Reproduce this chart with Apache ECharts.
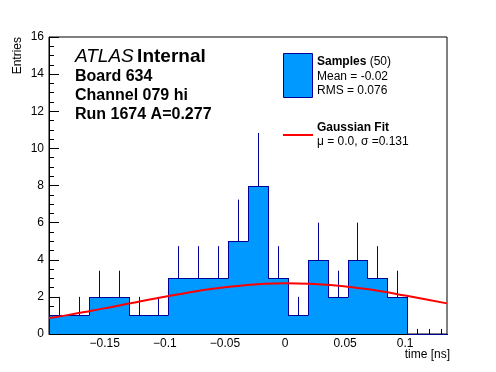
<!DOCTYPE html>
<html>
<head>
<meta charset="utf-8">
<script src="https://cdn.jsdelivr.net/npm/echarts@6/dist/echarts.min.js"></script>
<style>
html,body{margin:0;padding:0;background:#fff;}
#chart{width:496px;height:372px;}
</style>
</head>
<body>
<div id="chart"></div>
<script>
// ---- data ----
const xMin = -0.1964, xMax = 0.1348;
const binEdges = [-0.1964,-0.17984,-0.16328,-0.14672,-0.13016,-0.1136,-0.09704,-0.08048,-0.06392,-0.04736,
                  -0.0308,-0.01424,0.00232,0.01888,0.03544,0.052,0.06856,0.08512,0.10168,0.11824,0.1348];
const binCounts = [1,1,2,2,1,1,3,3,3,5,8,3,1,4,2,4,3,2,0,0];
const binErrors = [1,1,1.41,1.41,1,1,1.73,1.73,1.73,2.24,2.83,1.73,1,2,1.41,2,1.73,1.41,0,0];
const fitX = [-0.1964,-0.18,-0.16,-0.14,-0.12,-0.10,-0.08,-0.06,-0.04,-0.02,0,0.02,0.04,0.06,0.08,0.10,0.12,0.1348];
const fitY = [0.86,1.03,1.27,1.51,1.77,2.01,2.24,2.44,2.59,2.69,2.73,2.71,2.62,2.48,2.30,2.07,1.83,1.65];
const xMajorTicks = [-0.15,-0.1,-0.05,0,0.05,0.1];
const xMinorTicks = [-0.19,-0.18,-0.17,-0.16,-0.14,-0.13,-0.12,-0.11,-0.09,-0.08,-0.07,-0.06,-0.04,-0.03,-0.02,-0.01,
                     0.01,0.02,0.03,0.04,0.06,0.07,0.08,0.09,0.11,0.12,0.13];
const xTickLabels = ['\u22120.15','\u22120.1','\u22120.05','0','0.05','0.1'];

const FONT = '"Liberation Sans", Arial, sans-serif';
const FILL = '#0099ff', LINE = '#000099';

const histData = binCounts.map((c, i) => [binEdges[i], binEdges[i+1], c, i]);
const errData = binCounts.map((c, i) => [(binEdges[i] + binEdges[i+1]) / 2, c, binErrors[i]]).filter(d => d[2] > 0);
const fitData = fitX.map((x, i) => [x, fitY[i]]);

const chart = echarts.init(document.getElementById('chart'), null, {renderer: 'canvas'});
const crisp = v => Math.round(v) + 0.5;

chart.setOption({
  animation: false,
  backgroundColor: '#fff',
  grid: {left: 49, right: 49, top: 37, bottom: 38, show: true, borderColor: '#000', borderWidth: 1, backgroundColor: 'transparent'},
  xAxis: [{
    type: 'value', min: xMin, max: xMax, position: 'bottom',
    axisLine: {show: true, onZero: false, lineStyle: {color: '#000', width: 1}},
    axisTick: {show: true, inside: true, length: 10, customValues: xMajorTicks, lineStyle: {color: '#000'}},
    axisLabel: {show: true, customValues: xMajorTicks, margin: 4, color: '#000', fontSize: 12, fontFamily: FONT,
      formatter: v => { const k = xMajorTicks.findIndex(t => Math.abs(t - v) < 1e-6); return k >= 0 ? xTickLabels[k] : ''; }},
    splitLine: {show: false}
  }, {
    type: 'value', min: xMin, max: xMax, position: 'bottom', gridIndex: 0,
    axisLine: {show: false, onZero: false},
    axisTick: {show: true, inside: true, length: 5, customValues: xMinorTicks, lineStyle: {color: '#000'}},
    axisLabel: {show: false},
    splitLine: {show: false}
  }],
  yAxis: {
    type: 'value', min: 0, max: 16, interval: 2,
    axisLine: {show: true, onZero: false, lineStyle: {color: '#000', width: 1}},
    axisTick: {show: true, inside: true, length: 10, lineStyle: {color: '#000'}},
    minorTick: {show: true, splitNumber: 4, length: 5, lineStyle: {color: '#000'}},
    axisLabel: {color: '#000', fontSize: 12, fontFamily: FONT, margin: 5},
    splitLine: {show: false}
  },
  series: [{
    type: 'custom', name: 'errors', z: 1, xAxisIndex: 0,
    data: errData,
    renderItem: (params, api) => {
      const x = api.value(0), y = api.value(1), e = api.value(2);
      const p1 = api.coord([x, y - e]), p2 = api.coord([x, y + e]);
      const cx = crisp(p1[0]);
      return {type: 'line', shape: {x1: cx, y1: p1[1], x2: cx, y2: p2[1]}, style: {stroke: LINE, lineWidth: 1}};
    }
  }, {
    type: 'custom', name: 'Samples', z: 2, xAxisIndex: 0,
    data: histData,
    renderItem: (params, api) => {
      const lo = api.value(0), hi = api.value(1), c = api.value(2), i = api.value(3);
      const prev = i > 0 ? binCounts[i - 1] : 0;
      const a = api.coord([lo, c]), b = api.coord([hi, 0]), p = api.coord([lo, prev]);
      const rx0 = Math.round(a[0]), rx1 = Math.round(b[0]), ryTop = Math.round(a[1]), ryBot = Math.round(b[1]);
      const children = [];
      if (c > 0) children.push({type: 'rect', shape: {x: rx0, y: ryTop, width: rx1 - rx0, height: ryBot - ryTop}, style: {fill: FILL}});
      children.push({type: 'line', shape: {x1: rx0, y1: ryTop + 0.5, x2: rx1 + 1, y2: ryTop + 0.5}, style: {stroke: LINE, lineWidth: 1}});
      if (prev !== c) children.push({type: 'line', shape: {x1: rx0 + 0.5, y1: Math.round(p[1]) + 0.5, x2: rx0 + 0.5, y2: ryTop + 0.5}, style: {stroke: LINE, lineWidth: 1}});
      return {type: 'group', children};
    }
  }, {
    type: 'line', name: 'Gaussian Fit', z: 3, xAxisIndex: 0,
    data: fitData, smooth: true, showSymbol: false, symbol: 'none',
    lineStyle: {color: '#ff0000', width: 2}
  }],
  graphic: [
    {type: 'text', x: 12, y: 37, rotation: Math.PI / 2,
     style: {text: 'Entries', font: '12px ' + FONT, fill: '#000', align: 'right', verticalAlign: 'top'}},
    {type: 'text', x: 450, y: 349, style: {text: 'time [ns]', font: '12px ' + FONT, fill: '#000', align: 'right', verticalAlign: 'top'}},
    {type: 'text', x: 75, y: 57, style: {
      rich: {a: {font: 'italic 19px ' + FONT, fill: '#000'}, b: {font: 'bold 19px ' + FONT, fill: '#000'}},
      text: '{a|ATLAS} {b|Internal}', verticalAlign: 'middle', align: 'left'}},
    {type: 'text', x: 75, y: 77, style: {text: 'Board 634', font: 'bold 16px ' + FONT, fill: '#000', verticalAlign: 'middle'}},
    {type: 'text', x: 75, y: 96, style: {text: 'Channel 079 hi', font: 'bold 16px ' + FONT, fill: '#000', verticalAlign: 'middle'}},
    {type: 'text', x: 75, y: 115, style: {text: 'Run 1674 A=0.277', font: 'bold 16px ' + FONT, fill: '#000', verticalAlign: 'middle'}},
    {type: 'rect', shape: {x: 283.5, y: 53.5, width: 29, height: 44}, style: {fill: FILL, stroke: LINE, lineWidth: 1}},
    {type: 'text', x: 317, y: 62, style: {
      rich: {a: {font: 'bold 12px ' + FONT, fill: '#000'}, b: {font: '12px ' + FONT, fill: '#000'}},
      text: '{a|Samples} {b|(50)}', verticalAlign: 'middle'}},
    {type: 'text', x: 317, y: 77, style: {text: 'Mean = -0.02', font: '12px ' + FONT, fill: '#000', verticalAlign: 'middle'}},
    {type: 'text', x: 317, y: 91, style: {text: 'RMS = 0.076', font: '12px ' + FONT, fill: '#000', verticalAlign: 'middle'}},
    {type: 'line', shape: {x1: 283, y1: 135, x2: 313, y2: 135}, style: {stroke: '#ff0000', lineWidth: 2}},
    {type: 'text', x: 317, y: 128, style: {text: 'Gaussian Fit', font: 'bold 12px ' + FONT, fill: '#000', verticalAlign: 'middle'}},
    {type: 'text', x: 317, y: 142, style: {text: '\u03bc = 0.0, \u03c3 =0.131', font: '12px ' + FONT, fill: '#000', verticalAlign: 'middle'}}
  ]
});
</script>
</body>
</html>
